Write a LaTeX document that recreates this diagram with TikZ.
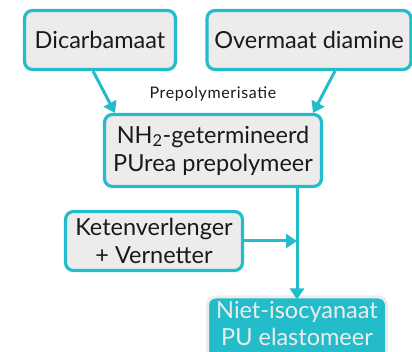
\documentclass[tikz,border=0pt]{standalone}
\usepackage{fontspec}
\setmainfont{Lato}
\usetikzlibrary{arrows.meta}
\definecolor{teal}{HTML}{22BCCB}
\definecolor{boxgray}{HTML}{EEECEA}
\definecolor{txt}{HTML}{1A1A1A}
\tikzset{
  box/.style={draw=teal, line width=3.2pt, fill=boxgray, rounded corners=8pt, text=txt, font=\fontsize{23.5}{28}\selectfont, align=center, inner sep=0pt},
  endbox/.style={draw=boxgray, line width=3pt, fill=teal, rounded corners=8pt, inner sep=0pt},
  endtext/.style={text=boxgray, font=\fontsize{23.5}{27.5}\selectfont, align=center, inner sep=0pt},
  conn/.style={draw=teal, line width=3pt, -{Triangle[length=11pt,width=14pt]}},
}
\begin{document}
\begin{tikzpicture}[x=1pt,y=-1pt]
\useasboundingbox (0,0) rectangle (412,352);
\node[box, minimum width=151pt, minimum height=59pt] (dic) at (100,40) {Dicarbamaat};
\node[box, minimum width=204pt, minimum height=59pt] (over) at (309,40) {Overmaat diamine};
\node[box, minimum width=217pt, minimum height=72pt] (pre) at (213,150.5) {NH\textsubscript{2}-getermineerd\\PUrea prepolymeer};
\node[font=\fontsize{16}{18}\addfontfeatures{LetterSpace=4}\selectfont, text=txt] (lab) at (213,94) {Prepolymerisatie};
\node[box, minimum width=177pt, minimum height=59pt] (ket) at (154,241) {Ketenverlenger\\+ Vernetter};
\node[endbox, minimum width=179pt, minimum height=62pt] (end) at (297,328) {};
\node[endtext] (endt) at (297,323.5) {Niet-isocyanaat\\PU elastomeer};
\coordinate (j) at (297,241);
\draw[conn] (93,71) -- (115,113);
\draw[conn] (335,71) -- (313,113);
\draw[conn] (pre.south -| j) -- ([yshift=-4pt]end.north);
\draw[conn] (ket.east) -- (j);
\end{tikzpicture}
\end{document}
